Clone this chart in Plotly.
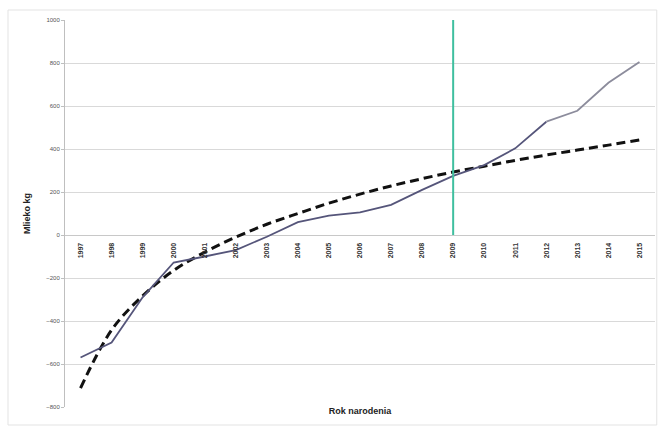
import plotly.graph_objects as go

# Birth year categories
years = [str(y) for y in range(1997, 2016)]

# Milk yield deviation (kg) by birth year
milk_kg = [-570, -500, -290, -128, -100, -70, -8, 60, 90, 105, 140, 210,
           275, 325, 403, 527, 578, 708, 805]

# Logarithmic trend of the same series (kg)
trend_kg = [-712, -442, -283, -165, -80, -10, 50, 100, 148, 190, 228, 262,
            293, 320, 347, 372, 395, 418, 442]

# Reference year marker
marker_year = "2009"
marker_span = [0, 1000]

y_ticks = list(range(-800, 1001, 200))

font_family = "Liberation Sans, Arial, sans-serif"

fig = go.Figure()

# Trend line (dashed)
fig.add_trace(go.Scatter(
    x=years, y=trend_kg, mode="lines", line_shape="spline",
    line=dict(color="#111111", width=3, dash="9px,5px"),
    hoverinfo="skip", showlegend=False,
))

# Breeding values, earlier years
split = years.index("2012")
fig.add_trace(go.Scatter(
    x=years[:split + 1], y=milk_kg[:split + 1], mode="lines",
    line=dict(color="#55557a", width=1.8),
    showlegend=False,
))
# Breeding values, latest years
fig.add_trace(go.Scatter(
    x=years[split:], y=milk_kg[split:], mode="lines",
    line=dict(color="#8c8c9c", width=1.8),
    showlegend=False,
))

# Vertical marker at the reference year
fig.add_trace(go.Scatter(
    x=[marker_year, marker_year], y=marker_span, mode="lines",
    line=dict(color="#3fbf9f", width=2),
    hoverinfo="skip", showlegend=False,
))

# Invisible trace carrying the category labels on the crossing axis
fig.add_trace(go.Scatter(
    x=years, y=[0] * len(years), xaxis="x2", mode="markers",
    marker=dict(opacity=0), hoverinfo="skip", showlegend=False,
))

zero_pos = (0 - y_ticks[0]) / (y_ticks[-1] - y_ticks[0])

fig.update_layout(
    width=665, height=430,
    margin=dict(l=65, r=10, t=20, b=23),
    paper_bgcolor="white", plot_bgcolor="white",
    font=dict(family=font_family, color="#333333"),
    xaxis=dict(
        type="category", categoryorder="array", categoryarray=years,
        range=[-0.5, len(years) - 0.5],
        showticklabels=False, showgrid=False, zeroline=False,
        showline=False, ticks="",
        title=dict(text="<b>Rok narodenia</b>",
                   font=dict(size=9, color="#222222"), standoff=0),
        automargin=False,
    ),
    xaxis2=dict(
        type="category", categoryorder="array", categoryarray=years,
        range=[-0.5, len(years) - 0.5],
        overlaying="x", anchor="free", position=zero_pos,
        side="bottom", tickangle=-90, ticks="outside", ticklen=4,
        tickcolor="rgba(0,0,0,0)",
        tickfont=dict(size=7, color="#333333", family=font_family,
                      weight="bold"),
        showgrid=False, zeroline=False, showline=False,
        automargin=False,
    ),
    yaxis=dict(
        range=[y_ticks[0], y_ticks[-1]], tickvals=y_ticks,
        tickfont=dict(size=6, color="#555555"),
        showgrid=True, gridcolor="#d9d9d9", gridwidth=1,
        zeroline=True, zerolinecolor="#c8c8c8", zerolinewidth=1,
        showline=True, linecolor="#bfbfbf", linewidth=1,
        ticks="outside", ticklen=3, tickcolor="#bfbfbf",
        title=dict(text="<b>Mlieko kg</b>",
                   font=dict(size=9, color="#222222"), standoff=14),
        automargin=False,
    ),
    shapes=[
        # Chart frame
        dict(type="rect", xref="paper", yref="paper",
             x0=-57 / 590, x1=1.003, y0=-18 / 387, y1=1 + 10 / 387,
             line=dict(color="#e3e3e3", width=1), layer="below"),
    ],
)

fig.write_html("out.html")
